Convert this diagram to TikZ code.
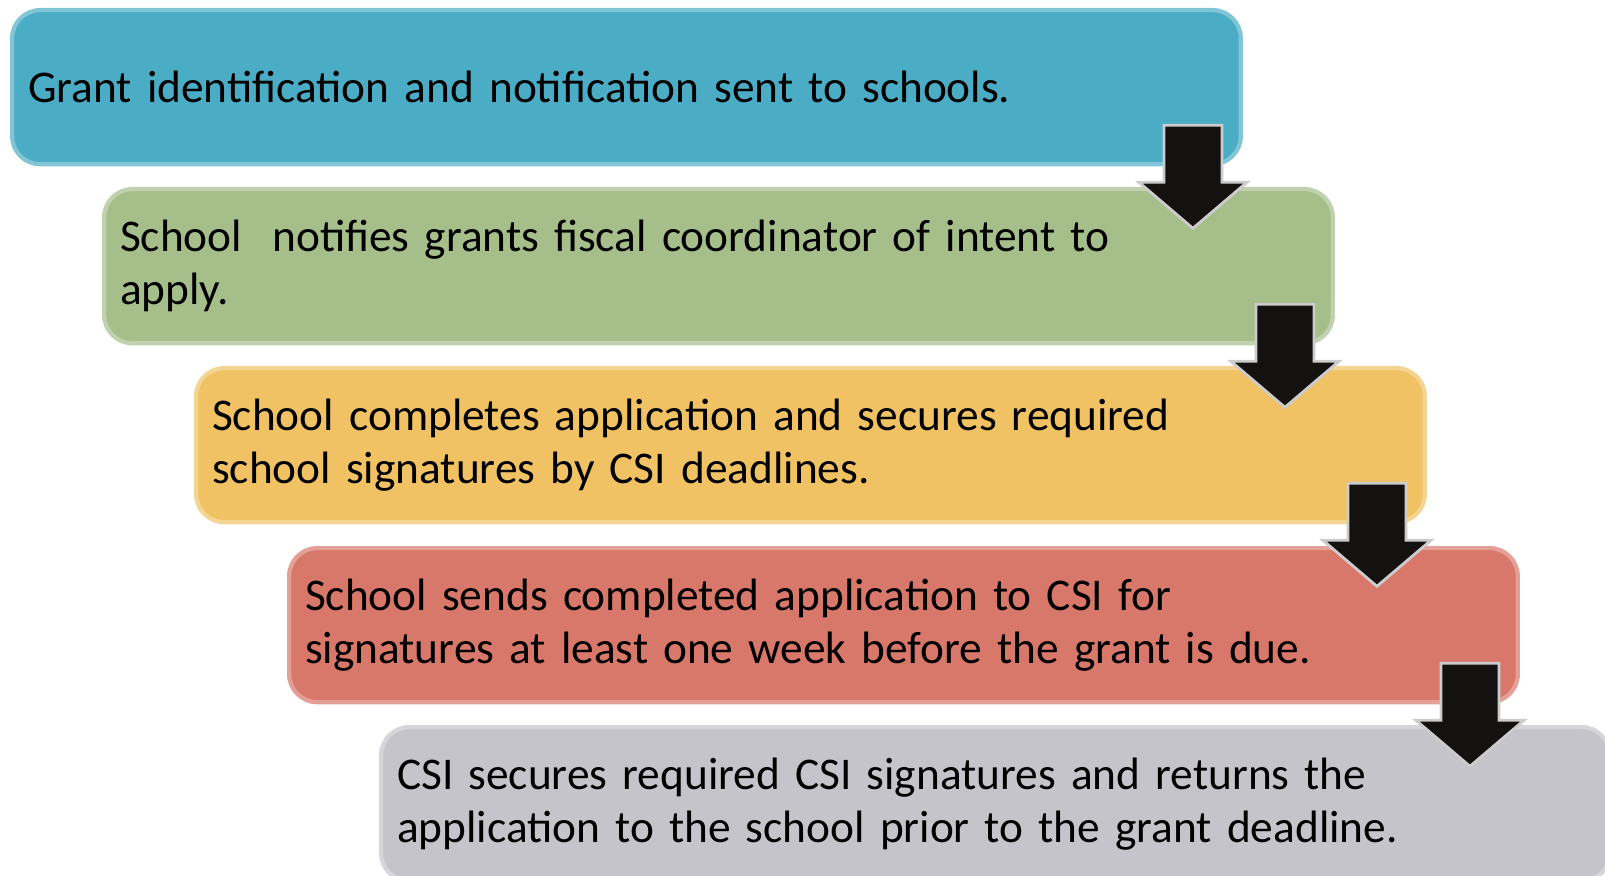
\documentclass[tikz,border=0pt]{standalone}
\usepackage{fontspec}
\setmainfont[WordSpace=0.65]{Carlito}
\usepackage{tikz}
\usetikzlibrary{calc}

\definecolor{stepteal}{RGB}{75,172,198}
\definecolor{stepgreen}{RGB}{165,190,138}
\definecolor{stepyellow}{RGB}{240,194,100}
\definecolor{stepred}{RGB}{216,120,106}
\definecolor{stepgray}{RGB}{196,196,202}
\definecolor{arrowblack}{RGB}{20,18,16}

\tikzset{
  stepbox/.style={rectangle, rounded corners=8pt, anchor=north west,
    minimum width=12.28cm, minimum height=1.54cm,
    text width=11.96cm, inner xsep=0.16cm, inner ysep=0pt, align=left,
    font=\fontsize{12.9}{15.1}\selectfont, line width=1.2pt},
  downarrow/.style={fill=arrowblack, draw=gray!40, line width=0.8pt}
}

\begin{document}
\begin{tikzpicture}[x=0.01cm,y=-0.01cm]
        \useasboundingbox (0,0) rectangle (1605,876);
        % the five steps
        \node[stepbox, fill=stepteal, draw=stepteal!70!white] (grant) at (10,8)
          {Grant identification and notification sent to schools.};
        \node[stepbox, fill=stepgreen, draw=stepgreen!70!white] (intent) at (102,187)
          {School~ notifies grants fiscal coordinator of intent to\\apply.};
        \node[stepbox, fill=stepyellow, draw=stepyellow!70!white] (complete) at (194,366)
          {School completes application and secures required\\school signatures by CSI deadlines.};
        \node[stepbox, fill=stepred, draw=stepred!70!white] (send) at (287,546)
          {School sends completed application to CSI for\\signatures at least one week before the grant is due.};
        \node[stepbox, fill=stepgray, draw=stepgray!70!white] (secure) at (379,725)
          {CSI secures required CSI signatures and returns the\\application to the school prior to the grant deadline.};
        % routine for the block arrows
        \foreach \from in {grant,intent,complete,send}
          \draw[downarrow] ($(\from.south east)+(-79,-41)$) -- ++(58,0) -- ++(0,57)
            -- ++(25,0) -- ++(-54,46) -- ++(-54,-46) -- ++(25,0) -- cycle;
      \end{tikzpicture}
\end{document}
